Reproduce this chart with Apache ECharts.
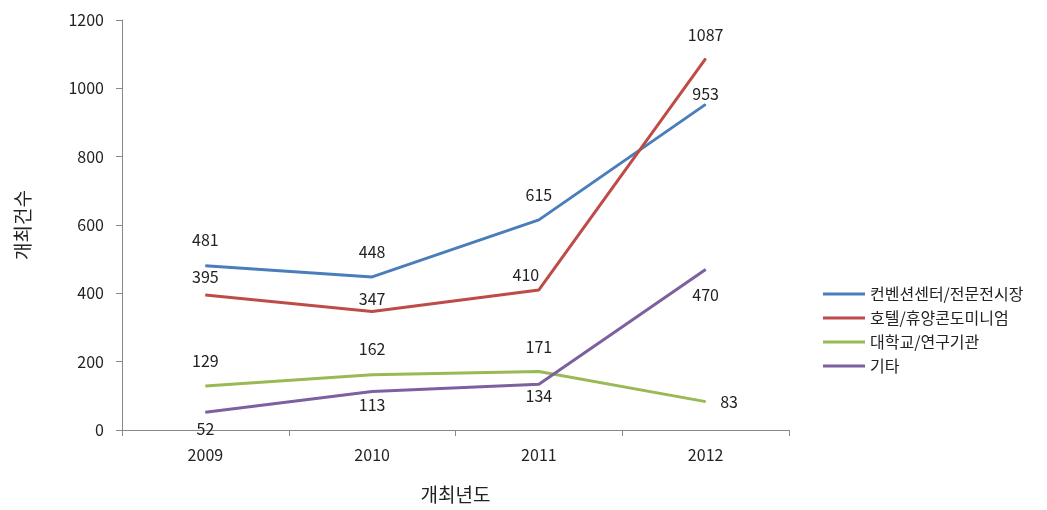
<!DOCTYPE html>
<html><head><meta charset="utf-8">
<script src="https://cdn.jsdelivr.net/npm/echarts@6/dist/echarts.min.js"></script>
<style>html,body{margin:0;padding:0;background:#fff}#c{width:1047px;height:510px}</style>
</head><body><div id="c"></div>
<script>
const years = ['2009','2010','2011','2012'];
const seriesNames = ['컨벤션센터/전문전시장','호텔/휴양콘도미니엄','대학교/연구기관','기타'];
const convention = [481, 448, 615, 953];
const hotel = [395, 347, 410, 1087];
const university = [129, 162, 171, 83];
const other = [52, 113, 134, 470];
const yTicks = [0, 200, 400, 600, 800, 1000, 1200];

const colors = ['#4a7ebb', '#be4b48', '#98b954', '#7d60a0'];
const font = '"Noto Sans CJK KR", "Noto Sans", sans-serif';
const labelPos = [
  ['top','top','top','top'],
  ['top','top','top','top'],
  ['top','top','top','right'],
  ['bottom','bottom','bottom','bottom']
];
const labelDist = [
  [17,17,16,2],
  [10,4,6,15],
  [17,17,16,14],
  [8,5,3,17]
];
const labelShift = [
  [[0,0],[0,0],[0,0],[0,0]],
  [[0,0],[0,0],[-13,0],[0,0]],
  [[0,0],[0,0],[0,0],[0,0]],
  [[0,0],[0,0],[0,0],[0,0]]
];
const dataSets = [convention, hotel, university, other];

const chart = echarts.init(document.getElementById('c'));
chart.setOption({
  animation: false,
  color: colors,
  textStyle: {fontFamily: font},
  grid: {left: 122, right: 258, top: 20, bottom: 80},
  legend: {
    orient: 'vertical', left: 818, top: 281, itemWidth: 42, itemHeight: 3, itemGap: 8,
    icon: 'rect',
    textStyle: {fontFamily: font, fontSize: 16, color: '#222'},
    data: seriesNames.map(n => ({name: n, icon: 'rect'}))
  },
  xAxis: {
    type: 'category', data: years, boundaryGap: true,
    name: '개최년도', nameLocation: 'middle', nameGap: 55,
    nameTextStyle: {fontSize: 19, color: '#222', fontFamily: font},
    axisLine: {lineStyle: {color: '#888', width: 1}},
    axisTick: {show: true, length: 6, lineStyle: {color: '#888'}},
    axisLabel: {fontSize: 16, color: '#222', margin: 17}
  },
  yAxis: {
    type: 'value', min: yTicks[0], max: yTicks[yTicks.length-1], interval: 200,
    name: '개최건수', nameLocation: 'middle', nameGap: 90, nameRotate: 90,
    nameTextStyle: {fontSize: 19, color: '#222', fontFamily: font},
    axisLine: {show: true, lineStyle: {color: '#888', width: 1}},
    axisTick: {show: true, length: 6, lineStyle: {color: '#888'}},
    splitLine: {show: false},
    axisLabel: {fontSize: 16, color: '#222', margin: 18, formatter: v => String(v)}
  },
  series: seriesNames.map((n, i) => ({
    name: n, type: 'line', symbol: 'circle', symbolSize: 1, showSymbol: true,
    lineStyle: {width: 3},
    label: {show: true, fontSize: 16, color: '#222', fontFamily: font},
    data: dataSets[i].map((v, j) => ({
      value: v,
      label: {show: true, position: labelPos[i][j], distance: labelDist[i][j], offset: labelShift[i][j]}
    }))
  }))
});
</script></body></html>
